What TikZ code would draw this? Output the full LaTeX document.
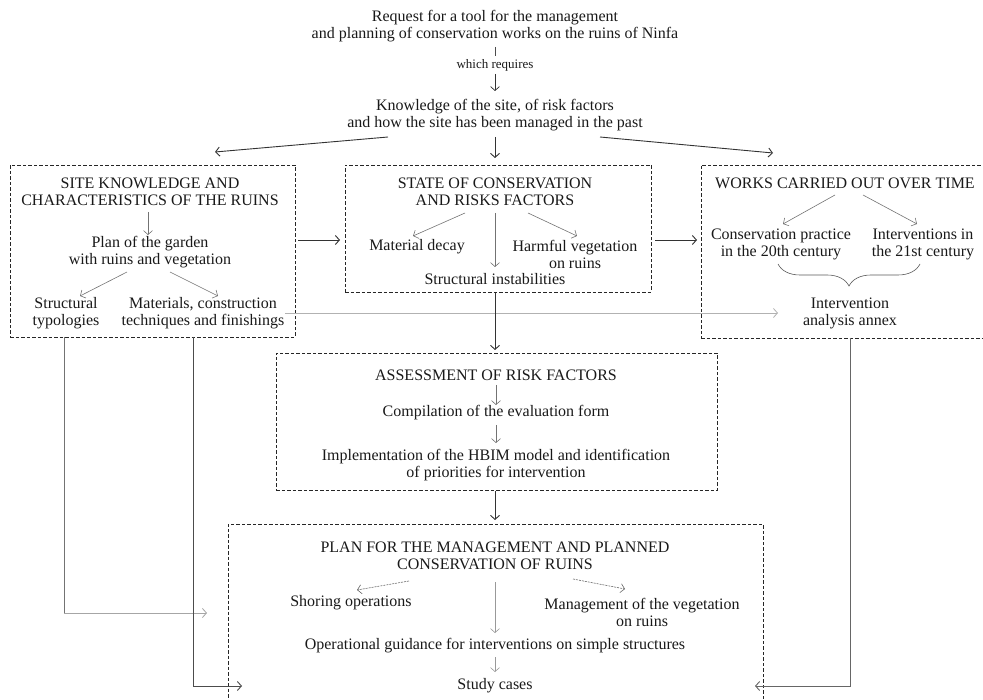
\documentclass[tikz,border=0pt]{standalone}
\usepackage{fontspec}
\setmainfont{Liberation Serif}
\usetikzlibrary{arrows.meta,decorations.pathreplacing}
\begin{document}
\begin{tikzpicture}[x=1pt,y=-1pt,
  txt/.style={align=center,inner sep=0pt,text=black!90,font=\fontsize{16}{17}\selectfont},
  small/.style={align=center,inner sep=0pt,text=black!90,font=\fontsize{13}{14}\selectfont},
  dbox/.style={draw=black!85,dash pattern=on 3.5pt off 2pt,line width=0.9pt,inner sep=0pt},
  mainarrow/.style={draw=black!80,line width=0.9pt,-{Straight Barb[length=4pt,width=9pt]}},
  thinarrow/.style={draw=black!55,line width=0.6pt,-{Straight Barb[length=4pt,width=9pt]}},
  lightarrow/.style={draw=black!30,line width=0.8pt,-{Straight Barb[length=4pt,width=9pt]}},
  dashedarrow/.style={draw=black!60,line width=0.6pt,dash pattern=on 2pt off 1pt,-{Straight Barb[length=4pt,width=9pt]}},
  elbow/.style={draw=black!70,line width=0.9pt},
  elbowlight/.style={draw=black!30,line width=0.8pt}
]
\useasboundingbox (0,0) rectangle (983,700);
\clip (0,0) rectangle (983,700);

% ---------- boxes ----------
\node[dbox,minimum width=285pt,minimum height=172pt] (b1) at (152.5,251) {};
\node[dbox,minimum width=306pt,minimum height=127pt] (b2) at (498,228.5) {};
\node[dbox,minimum width=309pt,minimum height=173pt] (b3) at (855.5,251.5) {};
\node[dbox,minimum width=441pt,minimum height=137pt] (b4) at (496.5,421.5) {};
\node[dbox,minimum width=535pt,minimum height=190pt] (b5) at (495.5,619) {};

% ---------- top ----------
\node[txt] (req) at (495,26.5) {Request for a tool for the management\\and planning of conservation works on the ruins of Ninfa};
\node[small] (which) at (495,65) {which requires};
\node[txt] (know) at (495,115.5) {Knowledge of the site, of risk factors\\and how the site has been managed in the past};

\coordinate (reqA) at (495,47);
\coordinate (reqB) at (495,56);
\draw[draw=black!70,line width=0.7pt] (reqA) -- (reqB);
\coordinate (whA) at (495,74);
\coordinate (whB) at (495,91);
\draw[mainarrow,line width=0.7pt] (whA) -- (whB);

\coordinate (kL1) at (388,137);
\coordinate (kL2) at (215,152);
\coordinate (kC1) at (495,137);
\coordinate (kC2) at (495,158);
\coordinate (kR1) at (600,137);
\coordinate (kR2) at (773,153);
\draw[mainarrow] (kL1) -- (kL2);
\draw[mainarrow] (kC1) -- (kC2);
\draw[mainarrow] (kR1) -- (kR2);

% ---------- box 1 ----------
\node[txt] (t1) at (150,191.5) {SITE KNOWLEDGE AND\\CHARACTERISTICS OF THE RUINS};
\node[txt] (plan) at (150,252) {Plan of the garden\\with ruins and vegetation};
\node[txt] (struct) at (66,313.5) {Structural\\typologies};
\node[txt] (mat) at (203,313.5) {Materials, construction\\techniques and finishings};
\coordinate (p1a) at (148,212); \coordinate (p1b) at (148,235);
\draw[thinarrow] (p1a) -- (p1b);
\coordinate (p2a) at (127,272); \coordinate (p2b) at (80,296);
\coordinate (p3a) at (170,272); \coordinate (p3b) at (218,296);
\draw[thinarrow] (p2a) -- (p2b);
\draw[thinarrow] (p3a) -- (p3b);

\coordinate (b12a) at (298,240); \coordinate (b12b) at (340,240);
\draw[mainarrow] (b12a) -- (b12b);

% ---------- box 2 ----------
\node[txt] (t2) at (495,191.5) {STATE OF CONSERVATION\\AND RISKS FACTORS};
\node[txt] (decay) at (417,247) {Material decay};
\node[txt] (harm) at (575,254) {Harmful vegetation\\on ruins};
\node[txt] (instab) at (495,279) {Structural instabilities};
\coordinate (q1a) at (465,213); \coordinate (q1b) at (413,236);
\coordinate (q2a) at (495,213); \coordinate (q2b) at (495,267);
\coordinate (q3a) at (528,213); \coordinate (q3b) at (577,236);
\draw[thinarrow] (q1a) -- (q1b);
\draw[thinarrow] (q2a) -- (q2b);
\draw[thinarrow] (q3a) -- (q3b);

\coordinate (b23a) at (655,240); \coordinate (b23b) at (697,240);
\draw[mainarrow] (b23a) -- (b23b);

% ---------- box 3 ----------
\node[txt] (t3) at (845,183) {WORKS CARRIED OUT OVER TIME};
\node[txt] (c20) at (781,244.5) {Conservation practice\\in the 20th century};
\node[txt] (c21) at (923,244.5) {Interventions in\\the 21st century};
\node[txt] (annex) at (850,313) {Intervention\\analysis annex};
\coordinate (r1a) at (835,195); \coordinate (r1b) at (783,224);
\coordinate (r2a) at (863,195); \coordinate (r2b) at (917,224);
\draw[thinarrow] (r1a) -- (r1b);
\draw[thinarrow] (r2a) -- (r2b);
\coordinate (brR) at (920,264); \coordinate (brL) at (778,264);
\draw[draw=black!65,line width=0.6pt,decorate,decoration={brace,amplitude=22pt}] (brR) -- (brL);

\coordinate (matR) at (285,313); \coordinate (annexL) at (778,313);
\draw[lightarrow] (matR) -- (annexL);

% ---------- box 4 ----------
\coordinate (b24a) at (495,293); \coordinate (b24b) at (495,350);
\draw[mainarrow] (b24a) -- (b24b);
\node[txt] (t4) at (496,375) {ASSESSMENT OF RISK FACTORS};
\node[txt] (comp) at (496,413) {Compilation of the evaluation form};
\node[txt] (impl) at (496,465.5) {Implementation of the HBIM model and identification\\of priorities for intervention};
\coordinate (s1a) at (496,385); \coordinate (s1b) at (496,405);
\coordinate (s2a) at (496,425); \coordinate (s2b) at (496,443);
\draw[thinarrow] (s1a) -- (s1b);
\draw[thinarrow] (s2a) -- (s2b);

% ---------- box 5 ----------
\coordinate (b45a) at (495,491); \coordinate (b45b) at (495,520);
\draw[mainarrow] (b45a) -- (b45b);
\node[txt] (t5) at (495,556) {PLAN FOR THE MANAGEMENT AND PLANNED\\CONSERVATION OF RUINS};
\node[txt] (shor) at (351,603) {Shoring operations};
\node[txt] (mveg) at (642,612) {Management of the vegetation\\on ruins};
\node[txt] (oper) at (495,646) {Operational guidance for interventions on simple structures};
\node[txt] (study) at (495,686) {Study cases};
\coordinate (u1a) at (409,581); \coordinate (u1b) at (357,590);
\coordinate (u2a) at (573,579); \coordinate (u2b) at (625,589);
\coordinate (u3a) at (495,582); \coordinate (u3b) at (495,633);
\coordinate (u4a) at (495,657); \coordinate (u4b) at (495,672);
\draw[dashedarrow] (u1a) -- (u1b);
\draw[dashedarrow] (u2a) -- (u2b);
\draw[thinarrow,draw=black!40] (u3a) -- (u3b);
\draw[thinarrow,draw=black!40] (u4a) -- (u4b);

% ---------- elbow connectors ----------
\coordinate (e1a) at (64,337); \coordinate (e1b) at (64,613); \coordinate (e1c) at (207,613);
\draw[elbow,draw=black!55] (e1a) -- (e1b);
\draw[elbowlight,-{Straight Barb[length=4pt,width=9pt]},draw=black!35] (e1b) -- (e1c);
\coordinate (e2a) at (193,337); \coordinate (e2b) at (193,686); \coordinate (e2c) at (242,686);
\draw[elbow,-{Straight Barb[length=4pt,width=9pt]}] (e2a) -- (e2b) -- (e2c);
\coordinate (e3a) at (850,338); \coordinate (e3b) at (850,686); \coordinate (e3c) at (755,686);
\draw[elbow,draw=black!60,-{Straight Barb[length=4pt,width=9pt]}] (e3a) -- (e3b) -- (e3c);
\end{tikzpicture}
\end{document}
